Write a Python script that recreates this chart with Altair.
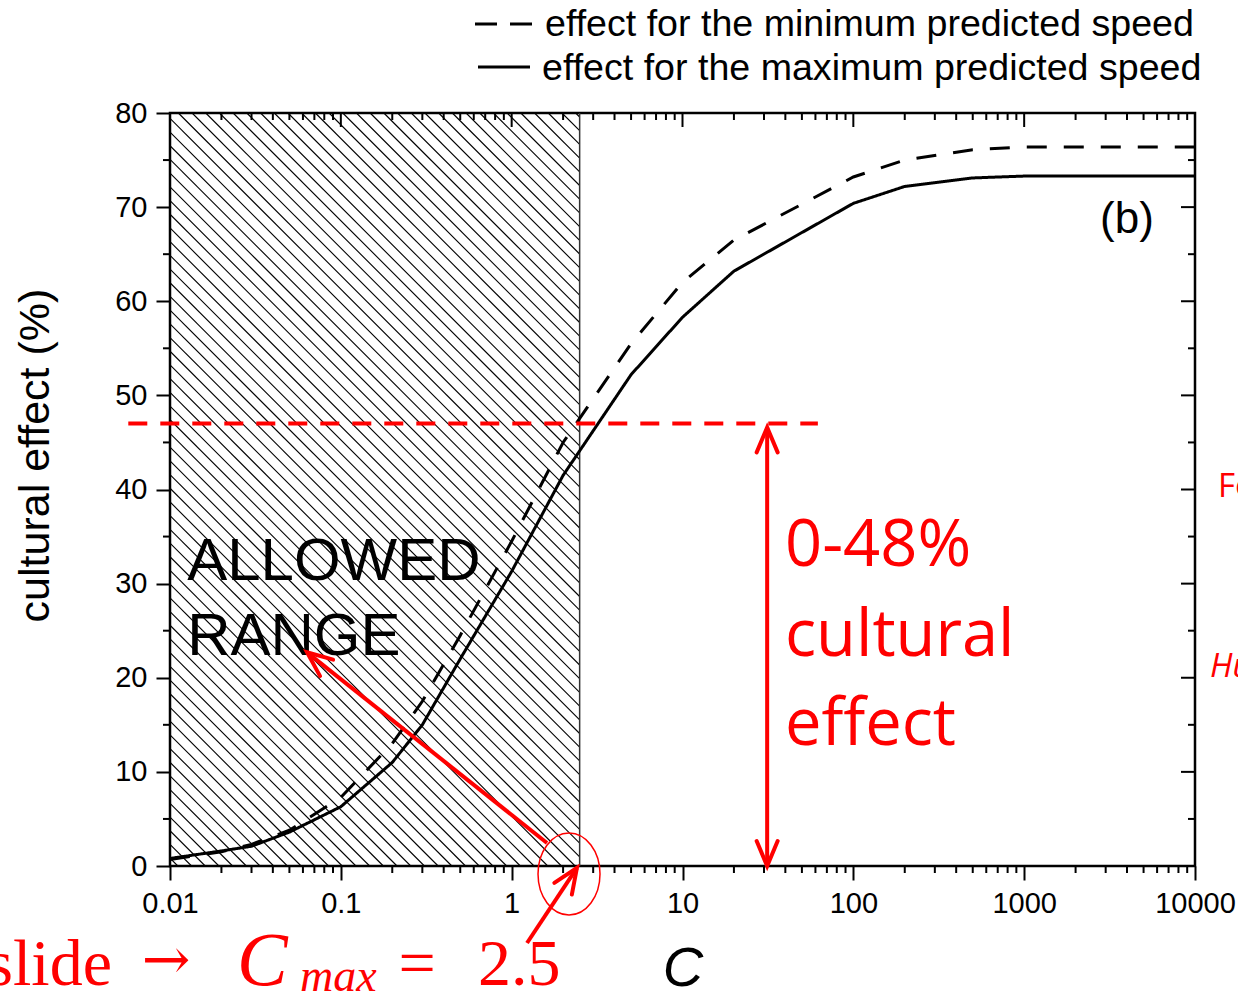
import math
import altair as alt
import pandas as pd

# Simulated cultural effect (%) against C, for the two predicted speeds
conc = [0.01, 0.02, 0.03, 0.05, 0.1, 0.2, 0.3, 0.5, 1, 2, 5, 10, 20, 100, 200, 500, 1000, 10000]
effect_min_speed = [0.7, 1.5, 2.3, 3.8, 7.3, 13.0, 17.5, 24.5, 34.5, 45.0, 55.5, 62.0, 66.5, 73.2, 75.0, 76.1, 76.4, 76.4]
effect_max_speed = [0.8, 1.6, 2.1, 3.6, 6.3, 11.0, 15.0, 22.0, 31.3, 41.5, 52.2, 58.3, 63.2, 70.4, 72.2, 73.1, 73.3, 73.3]
series_labels = ["effect for the minimum predicted speed", "effect for the maximum predicted speed"]

x_ticks_major = [0.01, 0.1, 1, 10, 100, 1000, 10000]
x_ticks_minor = [d * m for d in x_ticks_major[:-1] for m in range(2, 10)]
y_ticks_major = list(range(0, 81, 10))
y_ticks_minor = list(range(5, 80, 10))

c_max = 2.5            # upper end of the allowed range
threshold = 47         # cultural effect reached at c_max
arrow_c = 31.3         # where the 0-48% double arrow stands

W, H = 1025, 753
X_DOM = (0.01, 10000)
Y_DOM = (0, 80)

x_scale = alt.Scale(type="log", domain=list(X_DOM), nice=False)
y_scale = alt.Scale(domain=list(Y_DOM), nice=False, zero=False)

axis_font = "Liberation Sans"
x_axis = alt.Axis(
    values=x_ticks_major, format="~g", tickSize=14, tickWidth=2, tickColor="black",
    labelFont=axis_font, labelFontSize=29, labelColor="black", labelPadding=9,
    labelFlush=False, labelOverlap=False, domain=False, grid=False,
    title="C", titleFont=axis_font, titleFontSize=56, titleFontStyle="italic",
    titleFontWeight="normal", titleColor="black", titleX=W / 2, titleY=119,
    titleBaseline="alphabetic", titleAlign="center")
y_axis = alt.Axis(
    values=y_ticks_major, tickSize=14, tickWidth=2, tickColor="black",
    labelFont=axis_font, labelFontSize=29, labelColor="black", labelPadding=9,
    labelFlush=False, labelOverlap=False, domain=False, grid=False,
    title="cultural effect (%)", titleFont=axis_font, titleFontSize=43,
    titleFontWeight="normal", titleColor="black", titleAngle=270,
    titleX=-135, titleY=342, titleAlign="center", titleBaseline="middle")


def to_px(c, y):
    lo, hi = math.log10(X_DOM[0]), math.log10(X_DOM[1])
    return W * (math.log10(c) - lo) / (hi - lo), H * (1 - (y - Y_DOM[0]) / (Y_DOM[1] - Y_DOM[0]))


def from_px(u, v):
    lo, hi = math.log10(X_DOM[0]), math.log10(X_DOM[1])
    return 10 ** (lo + u / W * (hi - lo)), Y_DOM[0] + (1 - v / H) * (Y_DOM[1] - Y_DOM[0])


def heading(tail, tip):
    (u0, v0), (u1, v1) = to_px(*tail), to_px(*tip)
    return math.degrees(math.atan2(u1 - u0, -(v1 - v0))) % 360


def X(field):
    return alt.X(f"{field}:Q", scale=x_scale, axis=x_axis)


def Y(field):
    return alt.Y(f"{field}:Q", scale=y_scale, axis=y_axis)


# ---- hatched "allowed range" band (45 degree lines, clipped to the band)
U = to_px(c_max, 0)[0]
hatch_step = 13.7
hatch = []
b = -U + 4
while b < H:
    u0, u1 = max(0.0, -b), min(U, H - b)
    if u1 > u0:
        c0, y0 = from_px(u0, u0 + b)
        c1, y1 = from_px(u1, u1 + b)
        hatch.append({"c0": c0, "y0": y0, "c1": c1, "y1": y1})
    b += hatch_step
hatch_df = pd.DataFrame(hatch)

hatch_layer = alt.Chart(hatch_df).mark_rule(color="black", strokeWidth=1.1).encode(
    x=X("c0"), y=Y("y0"), x2="c1:Q", y2="y1:Q"
)
band_edge = alt.Chart(pd.DataFrame({"c": [c_max], "y0": [Y_DOM[0]], "y1": [Y_DOM[1]]})).mark_rule(
    color="#333333", strokeWidth=1.5
).encode(x=X("c"), y=Y("y0"), y2="y1:Q")

# ---- curves
curves_df = pd.DataFrame({
    "C": conc * 2,
    "effect": effect_min_speed + effect_max_speed,
    "series": [series_labels[0]] * len(conc) + [series_labels[1]] * len(conc),
})

curves = alt.Chart(curves_df).mark_line(color="black", strokeWidth=3, strokeCap="butt").encode(
    x=X("C"),
    y=Y("effect"),
    strokeDash=alt.StrokeDash("series:N", scale=alt.Scale(domain=series_labels, range=[[20, 17], [1, 0]]),
                              legend=None),
    detail="series:N",
)

# ---- minor / inward ticks
tick_style = dict(color="black", strokeWidth=2)
xmin_df = pd.DataFrame({"v": x_ticks_minor})
xmaj_df = pd.DataFrame({"v": x_ticks_major})
ymin_df = pd.DataFrame({"v": y_ticks_minor})
ymaj_df = pd.DataFrame({"v": y_ticks_major})

ticks = [
    alt.Chart(xmin_df).mark_rule(**tick_style).encode(x=X("v"), y=alt.value(H), y2=alt.value(H + 7)),
    alt.Chart(xmin_df).mark_rule(**tick_style).encode(x=X("v"), y=alt.value(0), y2=alt.value(7)),
    alt.Chart(xmaj_df).mark_rule(**tick_style).encode(x=X("v"), y=alt.value(0), y2=alt.value(14)),
    alt.Chart(ymin_df).mark_rule(**tick_style).encode(y=Y("v"), x=alt.value(0), x2=alt.value(-7)),
    alt.Chart(ymin_df).mark_rule(**tick_style).encode(y=Y("v"), x=alt.value(W), x2=alt.value(W - 7)),
    alt.Chart(ymaj_df).mark_rule(**tick_style).encode(y=Y("v"), x=alt.value(W), x2=alt.value(W - 14)),
]

# ---- labels inside the plot
band_text = alt.Chart(pd.DataFrame({"c": [0.0126, 0.0126], "y": [30.4, 22.4], "t": ["ALLOWED", "RANGE"]})).mark_text(
    align="left", baseline="alphabetic", font=axis_font, fontSize=60, color="black"
).encode(x=X("c"), y=Y("y"), text="t:N")

panel_tag = alt.Chart(pd.DataFrame({"c": [2780], "y": [67.25], "t": ["(b)"]})).mark_text(
    align="left", baseline="alphabetic", font=axis_font, fontSize=44, color="black"
).encode(x=X("c"), y=Y("y"), text="t:N")

red = "#ff0000"
range_text = alt.Chart(pd.DataFrame({"c": [39.8] * 3, "y": [31.9, 22.3, 12.9],
                                     "t": ["0-48%", "cultural", "effect"]})).mark_text(
    align="left", baseline="alphabetic", font="Open Sans", fontSize=65, color=red
).encode(x=X("c"), y=Y("y"), text="t:N")

# ---- red annotations
thr_line = alt.Chart(pd.DataFrame({"c0": [0.0057], "c1": [62.0], "y": [threshold]})).mark_rule(
    color=red, strokeWidth=4, strokeDash=[19, 13]
).encode(x=X("c0"), x2="c1:Q", y=Y("y"))

arrow_tails = [(arrow_c, 0.0), (1.61, 2.44), (1.23, -8.18)]
arrow_tips = [(arrow_c, 46.6), (0.0634, 22.7), (2.41, -0.2)]
shafts_df = pd.DataFrame({
    "c0": [t[0] for t in arrow_tails], "y0": [t[1] for t in arrow_tails],
    "c1": [t[0] for t in arrow_tips], "y1": [t[1] for t in arrow_tips],
})
shafts = alt.Chart(shafts_df).mark_rule(color=red, strokeWidth=4).encode(
    x=X("c0"), y=Y("y0"), x2="c1:Q", y2="y1:Q"
)

heads = [{"c": tip[0], "y": tip[1], "a": heading(tail, tip)} for tail, tip in zip(arrow_tails, arrow_tips)]
heads.append({"c": arrow_tails[0][0], "y": arrow_tails[0][1], "a": 180.0})  # lower end of the double arrow
chevron = "M -0.42 1 L 0 0 L 0.42 1"
arrow_heads = alt.Chart(pd.DataFrame(heads)).mark_point(
    shape=chevron, size=2500, filled=False, color=red, opacity=1, strokeWidth=4,
    strokeCap="round", strokeJoin="miter"
).encode(x=X("c"), y=Y("y"), angle=alt.Angle("a:Q", scale=None))

ellipse = "M -0.756 0 A 0.756 1 0 1 0 0.756 0 A 0.756 1 0 1 0 -0.756 0 Z"
ring = alt.Chart(pd.DataFrame({"c": [2.166], "y": [-0.85]})).mark_point(
    shape=ellipse, size=6724, filled=False, color=red, opacity=1, strokeWidth=1.5
).encode(x=X("c"), y=Y("y"))

# ---- legend above the frame
one = pd.DataFrame({"k": [0]})
legend = [
    alt.Chart(one).mark_rule(color="black", strokeWidth=3, strokeDash=[22, 13]).encode(
        x=alt.value(305), x2=alt.value(363), y=alt.value(-89)),
    alt.Chart(one).mark_rule(color="black", strokeWidth=3).encode(
        x=alt.value(308), x2=alt.value(360), y=alt.value(-46)),
    alt.Chart(pd.DataFrame({"t": [series_labels[0]]})).mark_text(
        align="left", baseline="alphabetic", font=axis_font, fontSize=37.6, color="black").encode(
        x=alt.value(375), y=alt.value(-77), text="t:N"),
    alt.Chart(pd.DataFrame({"t": [series_labels[1]]})).mark_text(
        align="left", baseline="alphabetic", font=axis_font, fontSize=37.6, color="black").encode(
        x=alt.value(372), y=alt.value(-33), text="t:N"),
]

# ---- red formula under the axis and the clipped side notes
formula_parts = [
    ("slide", -58, 872, "right", "Liberation Serif", 66, "normal"),
    ("\u2192", -4, 866, "center", "DejaVu Serif", 58, "normal"),
    ("C", 67, 872, "left", "Liberation Serif", 76, "italic"),
    ("max", 130, 878, "left", "Liberation Serif", 46, "italic"),
    ("=", 247, 872, "center", "Liberation Serif", 66, "normal"),
    ("2.5", 308, 872, "left", "Liberation Serif", 66, "normal"),
    ("Fo", 1048, 384, "left", "Open Sans", 33, "normal"),
    ("Hu", 1040, 564, "left", "Open Sans", 33, "italic"),
]
formula = [
    alt.Chart(pd.DataFrame({"t": [t]})).mark_text(
        align=al, baseline="alphabetic", font=f, fontSize=fs, fontStyle=st, color=red
    ).encode(x=alt.value(px), y=alt.value(py), text="t:N")
    for t, px, py, al, f, fs, st in formula_parts
]

chart = alt.layer(
    hatch_layer, band_edge, *ticks, curves, band_text, panel_tag, range_text,
    thr_line, shafts, arrow_heads, ring, *legend, *formula
).properties(
    width=W, height=H,
    padding={"left": 170, "top": 113, "right": 43, "bottom": 127},
    autosize=alt.AutoSizeParams(type="none"),
    background="white",
).configure_view(stroke="black", strokeWidth=2.5)

chart.save("out.html", embed_options={"renderer": "svg", "actions": False})
